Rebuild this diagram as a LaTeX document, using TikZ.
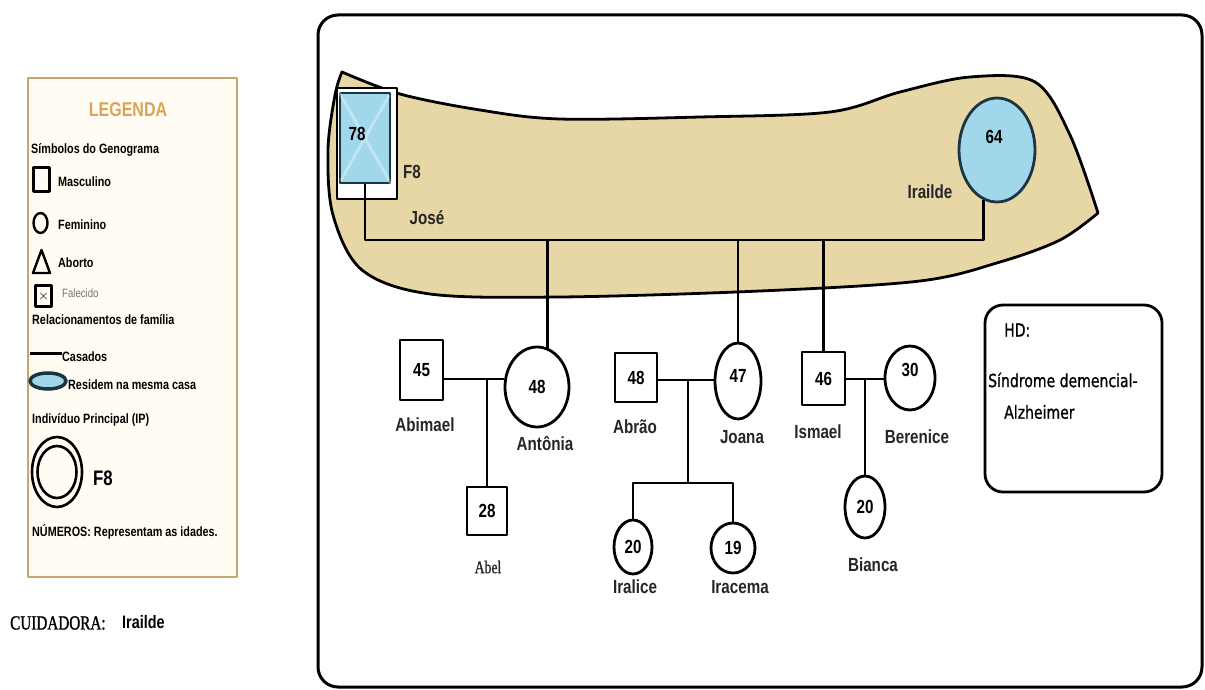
\documentclass[tikz,border=0pt]{standalone}
\usepackage{fontspec}
\setmainfont{Liberation Sans}
\newfontfamily\gsans[FakeStretch=0.8]{Liberation Sans}
\newfontfamily\gserif[FakeStretch=0.76,FakeBold=1.2]{Liberation Serif}
\newfontfamily\gdeja[FakeStretch=0.78,FakeBold=0.8]{DejaVu Sans}
\usepackage{tikz}
\usetikzlibrary{shapes.geometric,calc}
\definecolor{housetan}{HTML}{E7D7A7}
\definecolor{ipblue}{HTML}{A0D7EB}
\definecolor{legframe}{HTML}{C9A46C}
\definecolor{legfill}{HTML}{FFFCF3}
\definecolor{legtitle}{HTML}{D9A35A}
\definecolor{darkedge}{HTML}{1D3540}

\begin{document}
\begin{tikzpicture}[
    x=1pt, y=-1pt,
    line join=round,
    gline/.style={line width=2.8pt},
    male/.style={draw,gline,rectangle,inner sep=0pt,fill=white,font=\gsans\bfseries\fontsize{19}{21}\selectfont},
    female/.style={draw,gline,ellipse,inner sep=0pt,fill=white,font=\gsans\bfseries\fontsize{19}{21}\selectfont},
    age/.style={inner sep=0pt,font=\gsans\bfseries\fontsize{19}{21}\selectfont},
    who/.style={inner sep=0pt,text=black!85,font=\gsans\bfseries\fontsize{19}{21}\selectfont},
    leg/.style={anchor=west,inner sep=0pt,font=\gsans\bfseries\fontsize{13.5}{15}\selectfont},
    legsym/.style={draw,line width=2.4pt,inner sep=0pt},
    hdtext/.style={anchor=west,inner sep=0pt,font=\gdeja\fontsize{18}{20}\selectfont}
]
\useasboundingbox (0,0) rectangle (1205,690);

% outer frame of the genogram
\draw[line width=3pt,rounded corners=20] (318,15) rectangle (1202,687);

% household (same house) outline
\draw[gline,fill=housetan]
  plot[smooth,tension=0.55] coordinates {(342,72) (400,94) (480,110) (560,119) (700,117) (830,112) (900,92) (970,77) (1035,82) (1070,135) (1098,213)}
  -- plot[smooth,tension=0.55] coordinates {(1098,213) (1060,240) (1000,262) (920,281) (760,291) (560,297) (430,294) (362,270) (333,215) (328,150) (335,95) (342,72)}
  -- cycle;

% first generation: José (IP) and Irailde
\node[male,fill=white,minimum width=60,minimum height=111] (josebox) at (367,143.5) {};
\node[male,fill=ipblue,draw=darkedge,minimum width=50,minimum height=90] (jose) at (365,138) {};
\draw[white,opacity=0.35,line width=3pt,shorten <=4pt,shorten >=4pt]
  (jose.north west) -- (jose.south east) (jose.north east) -- (jose.south west);
\node[age] (n78) at (357,134) {78};
\node[who] (f8jose) at (412,172) {F8};
\node[who] (lbjose) at (427,218) {José};
\node[female,fill=ipblue,draw=darkedge,minimum width=76,minimum height=104] (irailde) at (997,150) {};
\node[age] (n64) at (994,137) {64};
\node[who] (lbirailde) at (930,192) {Irailde};

% second generation
\node[male,minimum width=43,minimum height=60] (abimael) at (421.5,370) {45};
\node[female,minimum width=64,minimum height=80] (antonia) at (537,387) {48};
\node[male,minimum width=42,minimum height=49] (abrao) at (636,377.5) {48};
\node[female,minimum width=46,minimum height=76,text depth=10pt] (joana) at (738,381) {47};
\node[male,minimum width=43,minimum height=53] (ismael) at (823.5,378.5) {46};
\node[female,minimum width=50,minimum height=64,text depth=16pt] (berenice) at (910,378) {30};

% third generation
\node[male,minimum width=40,minimum height=48] (abel) at (487,511) {28};
\node[female,minimum width=38,minimum height=54] (iralice) at (633,547) {20};
\node[female,minimum width=44,minimum height=50] (iracema) at (733,548) {19};
\node[female,minimum width=40,minimum height=62] (bianca) at (865,507) {20};

% names
\node[who] (lbabimael) at (425,425) {Abimael};
\node[who] (lbantonia) at (545,443) {Antônia};
\node[who,font=\gserif\fontsize{18}{20}\selectfont] (lbabel) at (488,567) {Abel};
\node[who] (lbabrao) at (635,427) {Abrão};
\node[who] (lbjoana) at (742,437) {Joana};
\node[who] (lbiralice) at (635,587) {Iralice};
\node[who] (lbiracema) at (740,587) {Iracema};
\node[who] (lbismael) at (818,432) {Ismael};
\node[who] (lbberenice) at (917,437) {Berenice};
\node[who] (lbbianca) at (873,565) {Bianca};

% marriage José--Irailde and their children
\coordinate (casal) at (0,240);
\draw[gline] (jose.south) |- (irailde.255 |- casal) -- (irailde.255);
\draw[gline] (antonia.75) -- (antonia.75 |- casal);
\draw[gline] (joana.north) -- (joana.north |- casal);
\draw[gline] (ismael.north) -- (ismael.north |- casal);

% couples of the second generation
\coordinate (c1) at (487,379);
\draw[gline] (abimael.east |- c1) -- (antonia.west |- c1);
\draw[gline] (c1) -- (abel.north);
\coordinate (c2) at (688,380);
\coordinate (s2) at (688,483);
\draw[gline] (abrao.east |- c2) -- (joana.west |- c2);
\draw[gline] (c2) -- (s2);
\draw[gline] (iralice.north) |- (s2) -| (iracema.north);
\coordinate (c3) at (865,379);
\draw[gline] (ismael.east |- c3) -- (berenice.west |- c3);
\draw[gline] (c3) -- (bianca.north);

% diagnosis box
\node[draw,gline,rounded corners=18,minimum width=177,minimum height=187] (hd) at (1073.5,398.5) {};
\node[hdtext] (hdlabel) at (1004,330) {HD:};
\node[hdtext] (hddiag) at (988,380) {Síndrome demencial-};
\node[hdtext] (hdalz) at (1004,412) {Alzheimer};

% legend
\node[draw=legframe,line width=2.5pt,fill=legfill,minimum width=209,minimum height=499,inner sep=0pt] (legend) at (132.5,327.5) {};
\node[inner sep=0pt,text=legtitle,font=\gsans\bfseries\fontsize{20}{22}\selectfont] (legtitle) at (128,110) {LEGENDA};
\node[leg] (legsymb) at (31,150) {Símbolos do Genograma};
\node[legsym,minimum width=16,minimum height=24] (legmale) at (41.5,179.5) {};
\node[leg] (legmasc) at (58,182) {Masculino};
\node[legsym,ellipse,minimum width=14,minimum height=20] (legfemale) at (40.5,223) {};
\node[leg] (legfem) at (58,225) {Feminino};
\draw[line width=2.4pt] (33,273) -- (41.5,250) -- (50,273) -- cycle;
\node[leg] (legabort) at (58,263) {Aborto};
\node[legsym,minimum width=16,minimum height=21] (legdead) at (43.5,296) {};
\draw[black!60,line width=0.8pt] ($(legdead.center)+(-3,-3)$) -- ($(legdead.center)+(3,3)$)
  ($(legdead.center)+(-3,3)$) -- ($(legdead.center)+(3,-3)$);
\node[leg,font=\gsans\fontsize{12}{13}\selectfont,text=black!55] (legfal) at (62,293) {Falecido};
\node[leg] (legrel) at (32,320) {Relacionamentos de família};
\draw[line width=3pt] (30,353) -- (62,353);
\node[leg] (legcas) at (62,357) {Casados};
\node[legsym,ellipse,draw=darkedge,line width=3.5pt,fill=ipblue,minimum width=36,minimum height=16] (leghouse) at (48,381) {};
\node[leg] (legres) at (68,385) {Residem na mesma casa};
\node[leg] (legip) at (32,420) {Indivíduo Principal (IP)};
\node[legsym,ellipse,line width=2.6pt,minimum width=50,minimum height=70] (legipout) at (57,472) {};
\node[legsym,ellipse,line width=2.6pt,minimum width=39,minimum height=52] (legipin) at (57,472) {};
\node[leg,font=\gsans\bfseries\fontsize{21}{23}\selectfont] (legf8) at (93,478) {F8};
\node[leg] (legnum) at (32,532) {NÚMEROS: Representam as idades.};

% caregiver
\node[anchor=west,inner sep=0pt,font=\gserif\fontsize{20}{22}\selectfont] (cuid) at (10,623) {CUIDADORA:};
\node[anchor=west,inner sep=0pt,font=\gsans\bfseries\fontsize{18}{20}\selectfont] (cuidname) at (122,622) {Irailde};
\end{tikzpicture}
\end{document}
